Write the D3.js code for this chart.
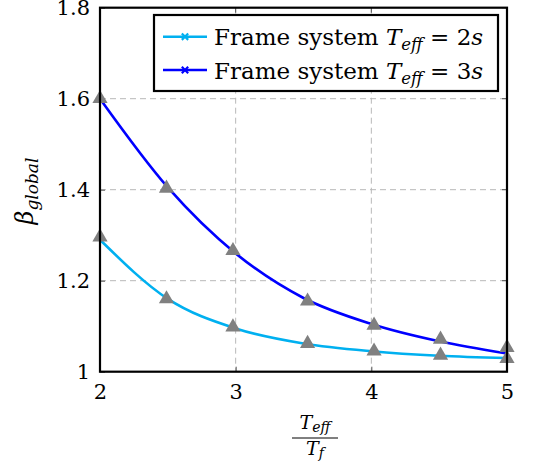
<!DOCTYPE html>
<html>
<head>
<meta charset="utf-8">
<script src="https://cdn.jsdelivr.net/npm/d3@7"></script>
<style>
  body { margin: 0; background: #fff; }
</style>
</head>
<body>
<svg id="chart" width="545" height="466"></svg>
<script>
// fitted curves
const curveX = [2, 2.5, 3, 3.5, 4, 4.5, 5];
const curve2s = [1.29, 1.16, 1.095, 1.062, 1.045, 1.035, 1.03];
const curve3s = [1.6, 1.405, 1.26, 1.162, 1.105, 1.067, 1.04];

// computed points (grey triangles)
const markX = [2, 2.49, 2.98, 3.53, 4.02, 4.51, 5];
const mark2s = [1.296, 1.16, 1.098, 1.062, 1.045, 1.036, 1.029];
const mark3s = [1.6, 1.403, 1.266, 1.155, 1.102, 1.071, 1.053];

const xTicks = [2, 3, 4, 5];
const yTicks = [1, 1.2, 1.4, 1.6, 1.8];
const seriesNames = ["Frame system ", "Frame system "];
const seriesT = ["2s", "3s"];
const colors = ["#00b0f0", "#0000ff"];

const FONT = "DejaVu Serif";
const svg = d3.select("#chart");
const mLeft = 100, mRight = 507, mTop = 7.7, mBottom = 371.7;

const x = d3.scaleLinear().domain([2, 5]).range([mLeft, mRight]);
const y = d3.scaleLinear().domain([1, 1.8]).range([mBottom, mTop]);

// grid
const grid = svg.append("g");
grid.selectAll(".gx").data(xTicks.slice(1, -1)).join("line")
    .attr("x1", d => x(d)).attr("x2", d => x(d))
    .attr("y1", mTop).attr("y2", mBottom)
    .attr("stroke", "#b8b8b8").attr("stroke-dasharray", "6,4");
grid.selectAll(".gy").data(yTicks.slice(1, -1)).join("line")
    .attr("x1", mLeft).attr("x2", mRight)
    .attr("y1", d => y(d)).attr("y2", d => y(d))
    .attr("stroke", "#b8b8b8").attr("stroke-dasharray", "6,4");

// axes
const xAxis = svg.append("g")
    .attr("transform", `translate(0,${mBottom})`)
    .call(d3.axisBottom(x).tickValues(xTicks).tickSize(-5).tickPadding(12).tickFormat(d3.format("d")));
const yAxis = svg.append("g")
    .attr("transform", `translate(${mLeft},0)`)
    .call(d3.axisLeft(y).tickValues(yTicks).tickSize(-5).tickPadding(10)
        .tickFormat(d => d === 1 ? "1" : d3.format(".1f")(d)));
[xAxis, yAxis].forEach(a => {
    a.attr("font-family", FONT).attr("font-size", 21);
    a.select(".domain").remove();
    a.selectAll(".tick line").attr("stroke", "#555");
    a.selectAll("text").attr("fill", "#000");
});
// right/top inner ticks
svg.append("g").selectAll("line").data(yTicks).join("line")
    .attr("x1", mRight).attr("x2", mRight - 5)
    .attr("y1", d => y(d)).attr("y2", d => y(d)).attr("stroke", "#555");
svg.append("g").selectAll("line").data(xTicks).join("line")
    .attr("x1", d => x(d)).attr("x2", d => x(d))
    .attr("y1", mTop).attr("y2", mTop + 5).attr("stroke", "#555");

// curves
const line = d3.line().x(d => x(d[0])).y(d => y(d[1])).curve(d3.curveMonotoneX);
[curve2s, curve3s].forEach((vals, i) => {
    svg.append("path")
        .attr("d", line(curveX.map((v, j) => [v, vals[j]])))
        .attr("fill", "none").attr("stroke", colors[i]).attr("stroke-width", 2.6);
});

// triangles
const tri = d3.symbol().type(d3.symbolTriangle).size(100);
[mark2s, mark3s].forEach(vals => {
    svg.append("g").selectAll("path").data(markX.map((v, j) => [v, vals[j]])).join("path")
        .attr("transform", d => `translate(${x(d[0])},${y(d[1])})`)
        .attr("d", tri).attr("fill", "#808080");
});

// frame
svg.append("rect")
    .attr("x", mLeft).attr("y", mTop).attr("width", mRight - mLeft).attr("height", mBottom - mTop)
    .attr("fill", "none").attr("stroke", "#000").attr("stroke-width", 2.2);

// legend
const lg = svg.append("g").attr("font-family", FONT);
lg.append("rect").attr("x", 154).attr("y", 15).attr("width", 344).attr("height", 76)
    .attr("fill", "#fff").attr("stroke", "#000").attr("stroke-width", 2.2);
seriesT.forEach((t, i) => {
    const yy = 36.7 + i * 33.3;
    lg.append("line").attr("x1", 163).attr("x2", 207).attr("y1", yy).attr("y2", yy)
        .attr("stroke", colors[i]).attr("stroke-width", 2.6);
    lg.append("path").attr("transform", `translate(185,${yy})`)
        .attr("d", d3.symbol().type(d3.symbolX).size(28))
        .attr("stroke", colors[i]).attr("stroke-width", 2.2).attr("fill", "none");
    const tx = lg.append("text").attr("x", 214).attr("y", yy + 8.5).attr("font-size", 23);
    tx.append("tspan").text(seriesNames[i]);
    tx.append("tspan").attr("font-style", "italic").text("T");
    tx.append("tspan").attr("font-style", "italic").attr("font-size", 16.5).attr("dy", 5).text("eff");
    tx.append("tspan").attr("dy", -5).text(" = " + t.slice(0, 1));
    tx.append("tspan").attr("font-style", "italic").text(t.slice(1));
});

// y label
const yl = svg.append("text").attr("transform", "translate(33,191) rotate(-90)")
    .attr("text-anchor", "middle").attr("font-size", 24).attr("font-family", FONT);
yl.append("tspan").attr("font-style", "italic").text("β");
yl.append("tspan").attr("font-style", "italic").attr("font-size", 17).attr("dy", 5).text("global");

// x label (fraction)
const cx = 315;
const num = svg.append("text").attr("x", cx).attr("y", 429).attr("text-anchor", "middle")
    .attr("font-size", 19).attr("font-family", FONT);
num.append("tspan").attr("font-style", "italic").text("T");
num.append("tspan").attr("font-style", "italic").attr("font-size", 14).attr("dy", 3).text("eff");
svg.append("line").attr("x1", cx - 23).attr("x2", cx + 23).attr("y1", 438).attr("y2", 438)
    .attr("stroke", "#000").attr("stroke-width", 1);
const den = svg.append("text").attr("x", cx).attr("y", 455).attr("text-anchor", "middle")
    .attr("font-size", 19).attr("font-family", FONT);
den.append("tspan").attr("font-style", "italic").text("T");
den.append("tspan").attr("font-style", "italic").attr("font-size", 14).attr("dy", 3).text("f");
</script>
</body>
</html>
